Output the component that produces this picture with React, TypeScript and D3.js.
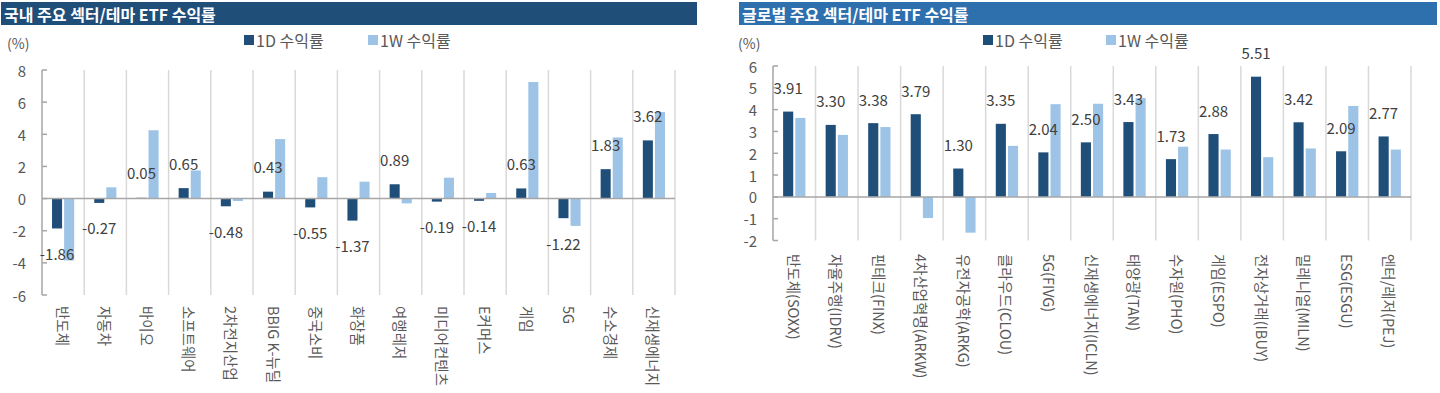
import React from 'react';
import * as d3 from 'd3';

// 국내 주요 섹터/테마 ETF
const domesticCategories = ['반도체', '자동차', '바이오', '소프트웨어', '2차전지산업', 'BBIG K-뉴딜', '중국소비', '화장품',
    '여행레저', '미디어컨텐츠', 'E커머스', '게임', '5G', '수소경제', '신재생에너지'];
const domestic1D = [-1.86, -0.27, 0.05, 0.65, -0.48, 0.43, -0.55, -1.37, 0.89, -0.19, -0.14, 0.63, -1.22, 1.83, 3.62];
const domestic1W = [-3.85, 0.7, 4.25, 1.75, -0.15, 3.7, 1.33, 1.05, -0.3, 1.3, 0.35, 7.25, -1.7, 3.8, 5.38];
const domesticTicks = [8, 6, 4, 2, 0, -2, -4, -6];

// 글로벌 주요 섹터/테마 ETF
const globalCategories = ['반도체(SOXX)', '자율주행(IDRV)', '핀테크(FINX)', '4차산업혁명(ARKW)', '유전자공학(ARKG)',
    '클라우드(CLOU)', '5G(FIVG)', '신재생에너지(ICLN)', '태양광(TAN)', '수자원(PHO)', '게임(ESPO)',
    '전자상거래(IBUY)', '밀레니얼(MILN)', 'ESG(ESGU)', '엔터/레저(PEJ)'];
const global1D = [3.91, 3.30, 3.38, 3.79, 1.30, 3.35, 2.04, 2.50, 3.43, 1.73, 2.88, 5.51, 3.42, 2.09, 2.77];
const global1W = [3.62, 2.84, 3.2, -0.97, -1.64, 2.34, 4.25, 4.27, 4.53, 2.3, 2.17, 1.82, 2.22, 4.17, 2.17];
const globalTicks = [6, 5, 4, 3, 2, 1, 0, -1, -2];

const seriesNames = ['1D 수익률', '1W 수익률'];
const COLOR_1D = '#1f4e79';
const COLOR_1W = '#9dc3e6';
const FONT = "'Noto Sans CJK KR', 'Noto Sans', sans-serif";
const TEXT = '#595959';

function Panel(props) {
    const {title, titleColor, titleX, titleW, left, right, top, bottom, categories, d1, w1, ticks,
        legendX, legendX2, labelGap, xLabelY} = props;

    const x = d3.scaleBand().domain(categories).range([left, right]);
    const sub = d3.scaleBand().domain(seriesNames).range([0, x.bandwidth()])
        .paddingInner(0.17).paddingOuter(0.83);
    const y = d3.scaleLinear().domain([d3.min(ticks), d3.max(ticks)]).range([bottom, top]);
    const y0 = y(0);

    return (
        <g>
            {/* title bar */}
            <rect x={titleX} y={2} width={titleW} height={23} fill={titleColor} />
            <text x={titleX + 3} y={14} dominantBaseline="central" fill="#fff"
                fontSize={16} fontWeight="bold" fontFamily={FONT}>{title}</text>

            {/* unit */}
            <text x={left - 35} y={43} dominantBaseline="central" fill={TEXT} fontSize={14} fontFamily={FONT}>(%)</text>

            {/* legend */}
            {seriesNames.map((s, i) => {
                const lx = i === 0 ? legendX : legendX2;
                return (
                    <g key={s}>
                        <rect x={lx} y={35} width={10} height={10} fill={i === 0 ? COLOR_1D : COLOR_1W} />
                        <text x={lx + 12} y={40} dominantBaseline="central" fill={TEXT}
                            fontSize={16} fontFamily={FONT}>{s}</text>
                    </g>
                );
            })}

            {/* vertical category grid lines */}
            {categories.map((c) => (
                <line key={'g' + c} x1={x(c) + x.bandwidth()} x2={x(c) + x.bandwidth()} y1={top} y2={bottom}
                    stroke="#d9d9d9" strokeWidth={1.5} />
            ))}

            {/* y axis */}
            <line x1={left} x2={left} y1={top} y2={bottom} stroke="#a6a6a6" strokeWidth={1.5} />
            {ticks.map((t) => (
                <g key={'t' + t}>
                    <line x1={left} x2={left + 5} y1={y(t)} y2={y(t)} stroke="#a6a6a6" strokeWidth={1.5} />
                    <text x={left - 16} y={y(t)} textAnchor="end" dominantBaseline="central" fill={TEXT}
                        fontSize={15} fontFamily={FONT}>{t}</text>
                </g>
            ))}

            {/* bars */}
            {categories.map((c, i) => (
                <g key={'b' + c}>
                    <rect x={x(c) + sub(seriesNames[0])} width={sub.bandwidth()}
                        y={Math.min(y(d1[i]), y0)} height={Math.abs(y(d1[i]) - y0)} fill={COLOR_1D} />
                    <rect x={x(c) + sub(seriesNames[1])} width={sub.bandwidth()}
                        y={Math.min(y(w1[i]), y0)} height={Math.abs(y(w1[i]) - y0)} fill={COLOR_1W} />
                </g>
            ))}

            {/* zero line */}
            <line x1={left} x2={right} y1={y0} y2={y0} stroke="#a6a6a6" strokeWidth={1.5} />

            {/* 1D data labels */}
            {categories.map((c, i) => (
                <text key={'l' + c} x={x(c) + sub(seriesNames[0]) + sub.bandwidth() / 2}
                    y={y(d1[i]) + (d1[i] >= 0 ? -labelGap : labelGap)}
                    textAnchor="middle" dominantBaseline="central" fill="#404040"
                    fontSize={15} fontFamily={FONT}>{d1[i].toFixed(2)}</text>
            ))}

            {/* category labels, rotated */}
            {categories.map((c) => {
                const cx = x(c) + x.bandwidth() / 2;
                return (
                    <text key={'x' + c} transform={`translate(${cx}, ${xLabelY}) rotate(90)`}
                        dominantBaseline="central" fill={TEXT} fontSize={14.5} fontFamily={FONT}>{c}</text>
                );
            })}
        </g>
    );
}

export default function App() {
    return (
        <svg width={1440} height={393} style={{position: 'absolute', left: 0, top: 0, background: '#fff'}}>
            <Panel title="국내 주요 섹터/테마 ETF 수익률" titleColor="#1f4e79" titleX={1} titleW={696}
                left={42} right={675} top={70} bottom={295}
                categories={domesticCategories} d1={domestic1D} w1={domestic1W} ticks={domesticTicks}
                legendX={244} legendX2={368} labelGap={25} xLabelY={306} />
            <Panel title="글로벌 주요 섹터/테마 ETF 수익률" titleColor="#2e6fad" titleX={739} titleW={698}
                left={773} right={1411} top={66} bottom={240.5}
                categories={globalCategories} d1={global1D} w1={global1W} ticks={globalTicks}
                legendX={983} legendX2={1106} labelGap={24} xLabelY={254} />
        </svg>
    );
}
